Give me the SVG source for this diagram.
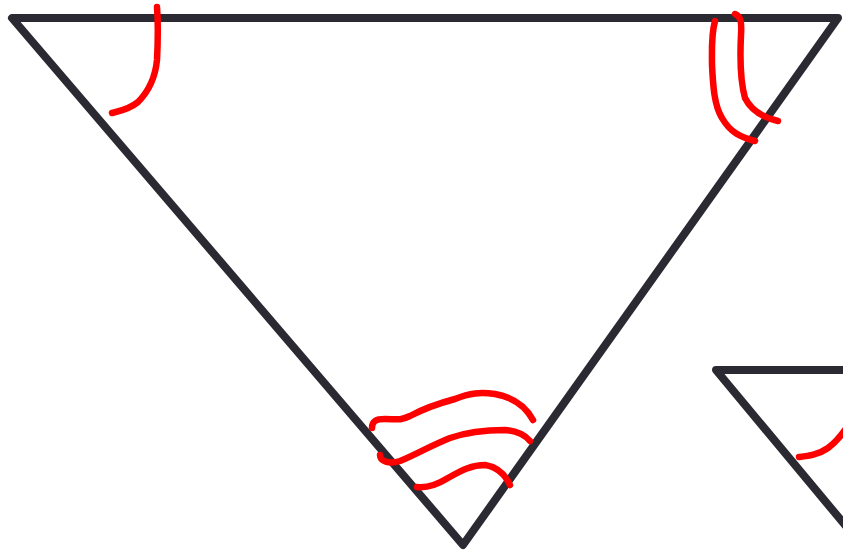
<svg xmlns="http://www.w3.org/2000/svg" width="843" height="554" viewBox="0 0 843 554">
<style>
.tri{fill:none;stroke:#2b2a33;stroke-width:8;stroke-linejoin:round;stroke-linecap:round}
.mark{fill:none;stroke:#ff0000;stroke-width:6.5;stroke-linecap:round;stroke-linejoin:round}
</style>
<rect width="843" height="554" fill="#ffffff"/>
<g id="triangle-main">
<path class="tri" d="M12,18 L838,18 L463,545 Z"/>
</g>
<g id="triangle-small">
<path class="tri" d="M860,370 L716,370 L860,543"/>
</g>
<g id="angle-marks">
<path class="mark" d="M157,7 C158,20 158,40 157,60 C155,80 148,92 138,102 C130,109 120,111 112,113"/>
<path class="mark" d="M715,21 C711,35 712,50 712,65 C713,85 714,105 722,118 C730,132 740,137 755,141"/>
<path class="mark" d="M735,14 C740,16 742,20 741,35 C740,55 740,80 745,98 C752,112 765,118 778,121"/>
<path class="mark" d="M372,428 C372,421 376,419 385,419 C395,419 400,421 410,416 C425,408 440,403 455,399 C470,393 480,392 495,394 C512,397 525,405 533,420"/>
<path class="mark" d="M380,455 C380,462 390,464 400,461 C415,455 430,446 450,438 C470,431 490,430 505,430 C517,431 525,435 530,441"/>
<path class="mark" d="M417,487 C425,488 435,486 448,478 C462,470 472,465 485,465 C497,467 505,474 510,485"/>
<path class="mark" d="M799,457 C808,456 818,455 828,448 C835,443 840,437 845,430"/>
</g>
</svg>
